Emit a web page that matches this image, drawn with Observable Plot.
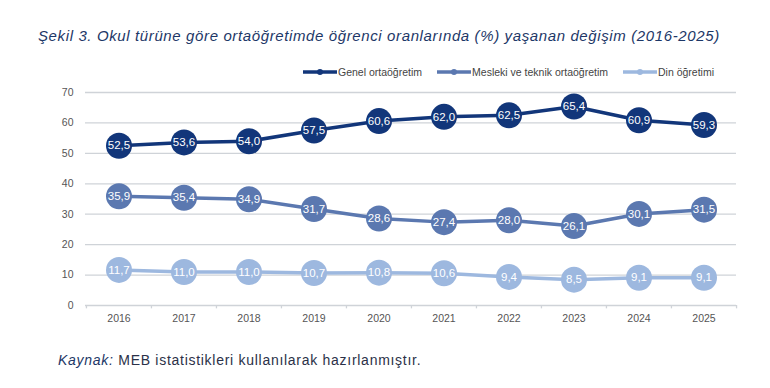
<!DOCTYPE html>
<html>
<head>
<meta charset="utf-8">
<script src="https://cdn.jsdelivr.net/npm/d3@7"></script>
<script src="https://cdn.jsdelivr.net/npm/@observablehq/plot@0.6"></script>
<style>
  body { margin: 0; background: #fff; }
  #wrap { position: relative; width: 770px; height: 388px; overflow: hidden; font-family: "Liberation Sans", Arial, sans-serif; }
  #title { position: absolute; left: 38px; top: 27px; font-size: 15px; letter-spacing: 0.62px; font-style: italic; color: #1d3767; white-space: nowrap; }
  #legend { position: absolute; left: 303px; top: 66px; font-family: "Liberation Sans Narrow", "Liberation Sans", Arial, sans-serif; font-size: 10.5px; color: #444; display: flex; gap: 15px; align-items: center; white-space: nowrap; }
  .li { display: flex; align-items: center; gap: 1px; }
  #chart { position: absolute; left: 0; top: 80px; }
  #caption { position: absolute; left: 58px; top: 352px; font-size: 14px; letter-spacing: 0.72px; color: #2b3148; white-space: nowrap; }
  #caption i { color: #1d3767; }
</style>
</head>
<body>
<div id="wrap">
  <div id="title">Şekil 3. Okul türüne göre ortaöğretimde öğrenci oranlarında (%) yaşanan değişim (2016-2025)</div>
  <div id="legend"></div>
  <div id="chart"></div>
  <div id="caption"><i>Kaynak:</i> MEB istatistikleri kullanılarak hazırlanmıştır.</div>
</div>
<script>
const years = ["2016","2017","2018","2019","2020","2021","2022","2023","2024","2025"];
const seriesNames = ["Genel ortaöğretim", "Mesleki ve teknik ortaöğretim", "Din öğretimi"];
const genel = [52.5, 53.6, 54.0, 57.5, 60.6, 62.0, 62.5, 65.4, 60.9, 59.3];
const mesleki = [35.9, 35.4, 34.9, 31.7, 28.6, 27.4, 28.0, 26.1, 30.1, 31.5];
const din = [11.7, 11.0, 11.0, 10.7, 10.8, 10.6, 9.4, 8.5, 9.1, 9.1];
const colors = ["#12367a", "#5b78b0", "#9db8df"];
const yTicks = [0, 10, 20, 30, 40, 50, 60, 70];

const values = [genel, mesleki, din];
const data = [];
values.forEach((arr, s) => arr.forEach((v, i) => data.push({series: seriesNames[s], year: years[i], value: v})));

const W = 770, H = 260, mL = 85, mR = 34, mT = 12, mB = 35;
const bw = (W - mL - mR) / years.length;

const fmt = v => v.toFixed(1).replace(".", ",");

const plot = Plot.plot({
  width: W, height: H,
  marginLeft: mL, marginRight: mR, marginTop: mT, marginBottom: mB,
  style: {fontFamily: "'Liberation Sans Narrow', 'Liberation Sans', Arial, sans-serif", fontSize: "10.5px", color: "#555", background: "transparent"},
  x: {type: "band", domain: years, padding: 0, label: null, tickSize: 0, tickPadding: 9},
  y: {domain: [0, 70], ticks: yTicks, label: null, tickSize: 0, tickPadding: 12},
  color: {domain: seriesNames, range: colors},
  marks: [
    Plot.ruleY(yTicks, {stroke: "#cfd3d8", strokeWidth: 1.3}),
    Plot.ruleX(years, {x: d => d, dx: -bw / 2, y1: 0, y2: -1.1, stroke: "#cfd3d8", strokeWidth: 1.3}),
    Plot.ruleX([years[years.length - 1]], {x: d => d, dx: bw / 2, y1: 0, y2: -1.1, stroke: "#cfd3d8", strokeWidth: 1.3}),
    Plot.line(data, {x: "year", y: "value", z: "series", stroke: "series", strokeWidth: 3.5}),
    Plot.dot(data, {x: "year", y: "value", fill: "series", r: 13, stroke: "series", strokeWidth: 0}),
    Plot.text(data, {x: "year", y: "value", text: d => fmt(d.value), fill: "#fff", fontSize: 11.5, fontFamily: "'Liberation Sans Narrow', 'Liberation Sans', Arial, sans-serif"})
  ]
});
document.getElementById("chart").appendChild(plot);

const legend = document.getElementById("legend");
seriesNames.forEach((n, i) => {
  const item = document.createElement("div");
  item.className = "li";
  item.innerHTML = `<svg width="34" height="10"><line x1="0" y1="5" x2="34" y2="5" stroke="${colors[i]}" stroke-width="3.5"/><circle cx="17" cy="5" r="3" fill="${colors[i]}"/></svg><span>${n}</span>`;
  legend.appendChild(item);
});
</script>
</body>
</html>
